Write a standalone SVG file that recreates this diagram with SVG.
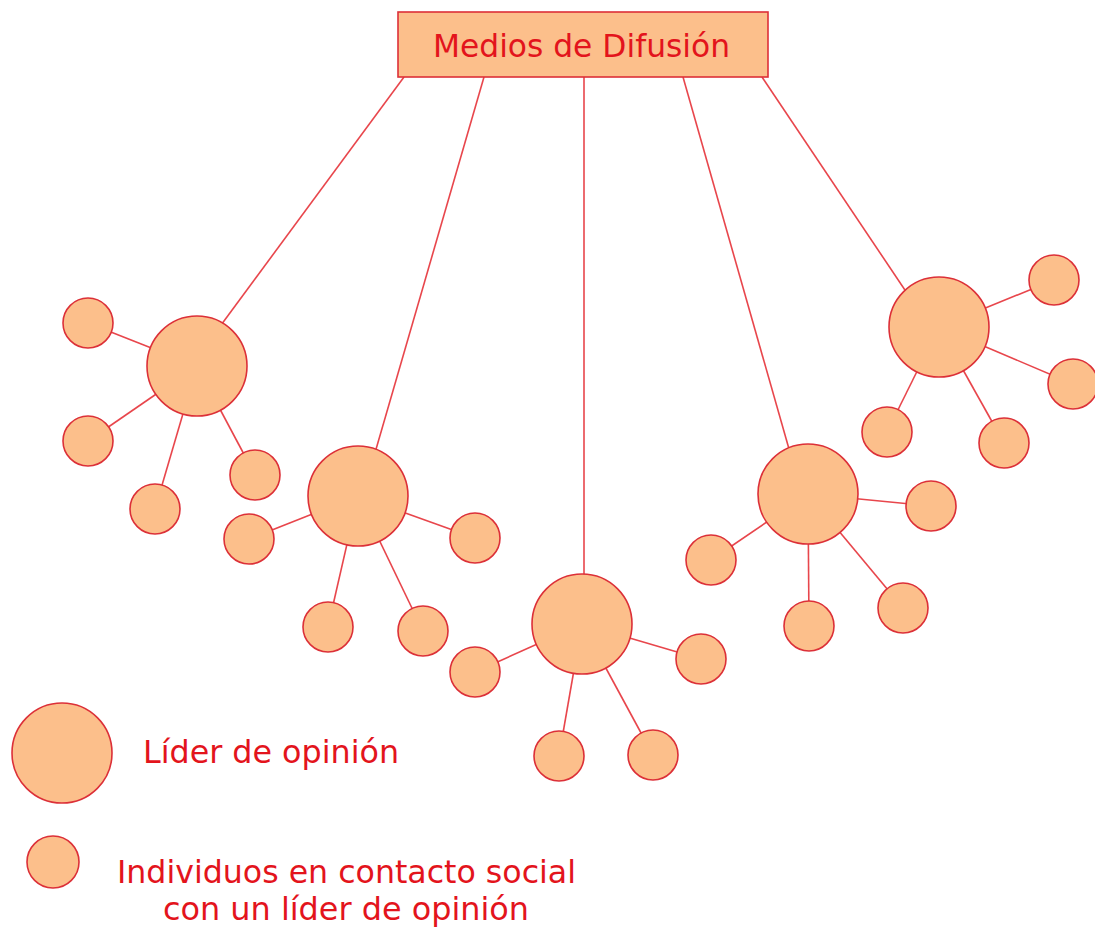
<svg xmlns="http://www.w3.org/2000/svg" width="1095" height="934" viewBox="0 0 1095 934">
<style>
.c{fill:#fcbf8b;stroke:#dc3038;stroke-width:1.6}
.e{stroke:#e8464c;stroke-width:1.6;fill:none}
.t{font-family:"DejaVu Sans",Verdana,sans-serif;font-size:32px;fill:#e3141c}
</style>
<rect width="1095" height="934" fill="#ffffff"/>
<g id="connectors">
<line class="e" x1="404" y1="77" x2="210" y2="340"/>
<line class="e" x1="484" y1="77" x2="370" y2="470"/>
<line class="e" x1="584" y1="77" x2="584" y2="590"/>
<line class="e" x1="683" y1="77" x2="795" y2="470"/>
<line class="e" x1="762" y1="77" x2="915" y2="305"/>
<line class="e" x1="197" y1="366" x2="88" y2="323"/>
<line class="e" x1="197" y1="366" x2="88" y2="441"/>
<line class="e" x1="197" y1="366" x2="155" y2="509"/>
<line class="e" x1="197" y1="366" x2="255" y2="475"/>
<line class="e" x1="358" y1="496" x2="249" y2="539"/>
<line class="e" x1="358" y1="496" x2="475" y2="538"/>
<line class="e" x1="358" y1="496" x2="328" y2="627"/>
<line class="e" x1="358" y1="496" x2="423" y2="631"/>
<line class="e" x1="582" y1="624" x2="475" y2="672"/>
<line class="e" x1="582" y1="624" x2="701" y2="659"/>
<line class="e" x1="582" y1="624" x2="559" y2="756"/>
<line class="e" x1="582" y1="624" x2="653" y2="755"/>
<line class="e" x1="808" y1="494" x2="711" y2="560"/>
<line class="e" x1="808" y1="494" x2="931" y2="506"/>
<line class="e" x1="808" y1="494" x2="809" y2="626"/>
<line class="e" x1="808" y1="494" x2="903" y2="608"/>
<line class="e" x1="939" y1="327" x2="1054" y2="280"/>
<line class="e" x1="939" y1="327" x2="1073" y2="384"/>
<line class="e" x1="939" y1="327" x2="887" y2="432"/>
<line class="e" x1="939" y1="327" x2="1004" y2="443"/>
</g>
<g id="medios">
<rect class="c" x="398" y="12" width="370" height="65"/>
<text class="t" x="581.5" y="57" text-anchor="middle" textLength="297" lengthAdjust="spacingAndGlyphs">Medios de Difusión</text>
</g>
<g id="lider1">
<circle class="c" cx="197" cy="366" r="50"/>
<circle class="c" cx="88" cy="323" r="25"/>
<circle class="c" cx="88" cy="441" r="25"/>
<circle class="c" cx="155" cy="509" r="25"/>
<circle class="c" cx="255" cy="475" r="25"/>
</g>
<g id="lider2">
<circle class="c" cx="358" cy="496" r="50"/>
<circle class="c" cx="249" cy="539" r="25"/>
<circle class="c" cx="475" cy="538" r="25"/>
<circle class="c" cx="328" cy="627" r="25"/>
<circle class="c" cx="423" cy="631" r="25"/>
</g>
<g id="lider3">
<circle class="c" cx="582" cy="624" r="50"/>
<circle class="c" cx="475" cy="672" r="25"/>
<circle class="c" cx="701" cy="659" r="25"/>
<circle class="c" cx="559" cy="756" r="25"/>
<circle class="c" cx="653" cy="755" r="25"/>
</g>
<g id="lider4">
<circle class="c" cx="808" cy="494" r="50"/>
<circle class="c" cx="711" cy="560" r="25"/>
<circle class="c" cx="931" cy="506" r="25"/>
<circle class="c" cx="809" cy="626" r="25"/>
<circle class="c" cx="903" cy="608" r="25"/>
</g>
<g id="lider5">
<circle class="c" cx="939" cy="327" r="50"/>
<circle class="c" cx="1054" cy="280" r="25"/>
<circle class="c" cx="1073" cy="384" r="25"/>
<circle class="c" cx="887" cy="432" r="25"/>
<circle class="c" cx="1004" cy="443" r="25"/>
</g>
<g id="legend-lider">
<circle class="c" cx="62" cy="753" r="50"/>
<text class="t" x="143" y="763" textLength="256" lengthAdjust="spacingAndGlyphs">Líder de opinión</text>
</g>
<g id="legend-individuos">
<circle class="c" cx="53" cy="862" r="26"/>
<text class="t" x="346.5" y="883" text-anchor="middle" textLength="459" lengthAdjust="spacingAndGlyphs">Individuos en contacto social</text>
<text class="t" x="346" y="920" text-anchor="middle" textLength="366" lengthAdjust="spacingAndGlyphs">con un líder de opinión</text>
</g>
</svg>
